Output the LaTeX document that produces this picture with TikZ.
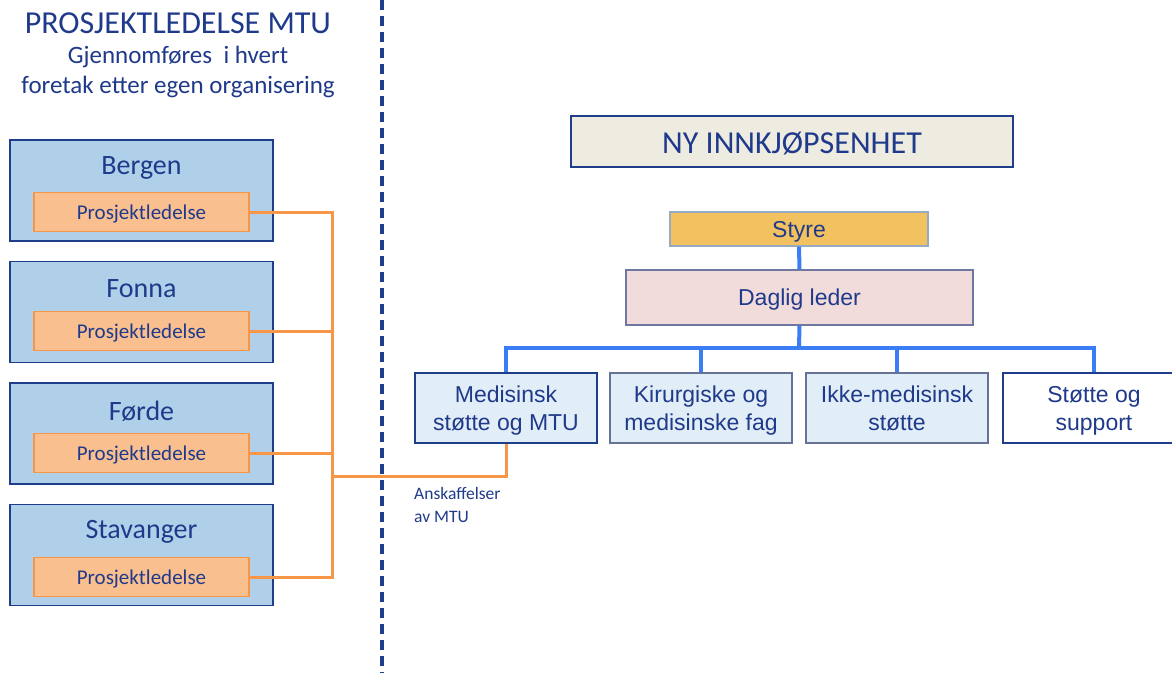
\documentclass[tikz,border=0pt]{standalone}
\usepackage{fontspec}
\setmainfont{Carlito}
\newfontfamily\arialf{Liberation Sans}
\definecolor{txtblue}{RGB}{31,58,138}
\definecolor{regfill}{RGB}{176,208,233}
\definecolor{regdraw}{RGB}{30,62,140}
\definecolor{orfill}{RGB}{249,191,143}
\definecolor{ordraw}{RGB}{247,150,70}
\definecolor{nyfill}{RGB}{238,235,225}
\definecolor{styrefill}{RGB}{242,194,97}
\definecolor{styredraw}{RGB}{150,170,195}
\definecolor{dagfill}{RGB}{242,220,219}
\definecolor{dagdraw}{RGB}{110,120,160}
\definecolor{unitfill}{RGB}{225,237,247}
\definecolor{greydraw}{RGB}{100,115,150}
\definecolor{busblue}{RGB}{58,125,245}
\newcommand{\lowr}[2]{\raisebox{-#1}[\height][\depth]{#2}}
\newcommand{\twol}[2]{\lowr{3pt}{\begin{tabular}{@{}c@{}}#1\\#2\end{tabular}}}
\tikzset{
  regbox/.style={draw=regdraw, line width=1.5pt, fill=regfill, minimum width=263pt, minimum height=101pt, inner sep=0pt},
  regname/.style={text=txtblue, font=\fontsize{28}{30}\selectfont},
  pbox/.style={draw=ordraw, line width=1.5pt, fill=orfill, minimum width=215pt, minimum height=39pt, inner sep=0pt, text=txtblue, font=\fontsize{21}{24}\selectfont},
  orline/.style={draw=ordraw, line width=3pt},
  blline/.style={draw=busblue, line width=4pt},
  unit/.style={draw=greydraw, line width=1.2pt, fill=unitfill, minimum width=182pt, minimum height=70pt, inner sep=0pt, text=txtblue, font=\arialf\fontsize{23}{28}\selectfont},
}
\begin{document}
\begin{tikzpicture}[x=1pt,y=-1pt]
\path[use as bounding box] (0,0) rectangle (1172,673);
\clip (0,0) rectangle (1172,673);
\fill[white] (0,0) rectangle (1172,673);
% title
\node[text=txtblue, font=\fontsize{32}{34}\selectfont] (title) at (178,23) {PROSJEKTLEDELSE MTU};
\node[text=txtblue, font=\fontsize{25}{30}\selectfont, align=center] (sub) at (178,72) {Gjennomføres\ \ i hvert\\foretak etter egen organisering};
% dashed divider
\coordinate (dtop) at (382,0);
\coordinate (dbot) at (382,673);
\draw[regdraw, line width=3.5pt, dash pattern=on 10pt off 6pt] (dtop) -- (dbot);
% regions
\node[regbox] (rB) at (141.5,190.5) {};
\node[regbox] (rF) at (141.5,312) {};
\node[regbox] (rD) at (141.5,433.5) {};
\node[regbox] (rS) at (141.5,555) {};
\node[regname] (nB) at (141.5,168) {Bergen};
\node[regname] (nF) at (141.5,289) {Fonna};
\node[regname] (nD) at (141.5,411) {Førde};
\node[regname] (nS) at (141.5,532) {Stavanger};
\node[pbox] (pB) at (141.5,212) {\lowr{2pt}{Prosjektledelse}};
\node[pbox] (pF) at (141.5,331) {\lowr{2pt}{Prosjektledelse}};
\node[pbox] (pD) at (141.5,453) {\lowr{2pt}{Prosjektledelse}};
\node[pbox] (pS) at (141.5,577) {\lowr{2pt}{Prosjektledelse}};
% right side
\node[draw=regdraw, line width=2pt, fill=nyfill, minimum width=442pt, minimum height=51pt, inner sep=0pt, text=txtblue, font=\fontsize{32}{34}\selectfont] (ny) at (792,141.5) {\lowr{2pt}{NY INNKJØPSENHET}};
\node[draw=styredraw, line width=1.2pt, fill=styrefill, minimum width=258pt, minimum height=34pt, inner sep=0pt, text=txtblue, font=\arialf\fontsize{23}{26}\selectfont] (styre) at (799,229) {\lowr{3pt}{Styre}};
\node[draw=dagdraw, line width=1.2pt, fill=dagfill, minimum width=347pt, minimum height=55pt, inner sep=0pt, text=txtblue, font=\arialf\fontsize{23}{26}\selectfont] (dag) at (799.5,297.5) {\lowr{2pt}{Daglig leder}};
\node[unit, draw=regdraw] (med) at (506,408) {\twol{Medisinsk}{støtte og MTU}};
\node[unit] (kir) at (701,408) {\twol{Kirurgiske og}{medisinske fag}};
\node[unit] (ikke) at (897,408) {\twol{Ikke-medisinsk}{støtte}};
\node[unit, draw=regdraw, fill=white] (sto) at (1094,408) {\twol{Støtte og}{support}};
% blue connectors
\coordinate (bus) at (799,348);
\draw[blline] (styre.south) -- (dag.north);
\draw[blline] (dag.south) -- (bus);
\draw[blline] (bus) -| (med.north);
\draw[blline] (bus) -| (kir.north);
\draw[blline] (bus) -| (ikke.north);
\draw[blline] (bus) -| (sto.north);
% orange connectors
\coordinate (j) at (332,476);
\draw[orline] (pB.east) -| (j);
\draw[orline] (pF.east) -| (j);
\draw[orline] (pD.east) -| (j);
\draw[orline] (pS.east) -| (j);
\draw[orline] (j) -| (med.south);
\node[text=txtblue, font=\fontsize{17.5}{23}\selectfont, align=left, anchor=north west, inner sep=0pt] (ansk) at (414,487) {Anskaffelser\\av MTU};
\end{tikzpicture}
\end{document}
